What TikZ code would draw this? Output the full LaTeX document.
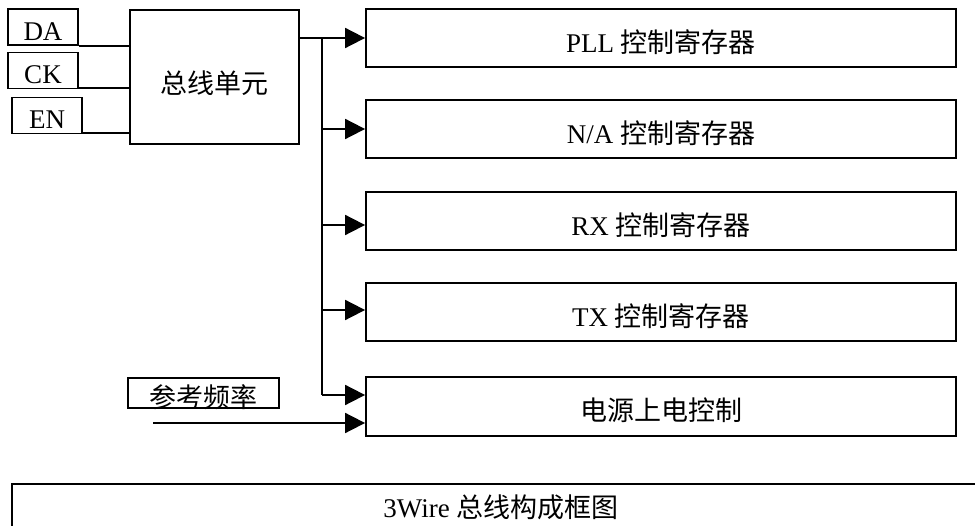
\documentclass[tikz,border=0pt]{standalone}
\usepackage{fontspec}
\setmainfont{Liberation Serif}
\newfontfamily\cjk{Noto Sans CJK SC}
\usetikzlibrary{arrows.meta}
\tikzset{
  every picture/.style={x=1pt,y=-1pt},
  frame/.style={draw, line width=1.8pt, inner sep=0pt},
  inbox/.style={frame, minimum width=70pt, minimum height=36pt},
  regbox/.style={frame, minimum width=590pt, minimum height=58pt},
  lbl/.style={inner sep=0pt, yshift=#1},
  lbl/.default={-4pt},
  conn/.style={line width=1.8pt},
  arr/.style={conn, -{Triangle[length=20pt,width=20pt]}},
  bigfont/.style={font=\fontsize{27}{30}\selectfont}
}
\begin{document}
\begin{tikzpicture}[bigfont]
\clip (0,0) rectangle (975,526);
\fill[white] (0,0) rectangle (975,526);

% input boxes
\node[inbox, label={[lbl=-5pt]center:DA}] (da) at (43,27) {};
\node[inbox, label={[lbl=-4.5pt]center:CK}] (ck) at (43,70.5) {};
\node[inbox, label={[lbl=-4.5pt]center:EN}] (en) at (47,115.5) {};

% bus unit
\node[frame, minimum width=169pt, minimum height=134pt,
      label={[lbl=-6.5pt]center:{\cjk 总线单元}}] (bus) at (214.5,77) {};

% register boxes
\node[regbox, label={[lbl]center:{PLL {\cjk 控制寄存器}}}] (pll) at (661,38) {};
\node[regbox, label={[lbl]center:{N/A {\cjk 控制寄存器}}}] (na) at (661,129) {};
\node[regbox, label={[lbl]center:{RX {\cjk 控制寄存器}}}] (rx) at (661,221) {};
\node[regbox, label={[lbl]center:{TX {\cjk 控制寄存器}}}] (tx) at (661,312) {};
\node[regbox, minimum height=59pt, label={[lbl]center:{\cjk 电源上电控制}}] (pwr) at (661,406.5) {};

% reference frequency
\node[frame, minimum width=151pt, minimum height=30pt,
      label={[lbl=-4pt]center:{\cjk 参考频率}}] (ref) at (203.5,393) {};
\coordinate (refin) at (153,423);

% caption
\node[frame, minimum width=978pt, minimum height=76pt,
      label={[lbl=15pt]center:{3Wire {\cjk 总线构成框图}}}] (cap) at (501,522) {};

% input lines
\draw[conn] (da.south east) -- (da.south east -| bus.west);
\draw[conn] ([yshift=1pt]ck.south east) -- ([yshift=1pt]ck.south east -| bus.west);
\draw[conn] ([yshift=1pt]en.south east) -- ([yshift=1pt]en.south east -| bus.west);

% bus distribution
\coordinate (j1) at (322,38);
\coordinate (j2) at (322,129);
\coordinate (j3) at (322,225);
\coordinate (j4) at (322,310);
\coordinate (j5) at (322,395);
\draw[arr] (bus.east |- j1) -- (pll.west);
\draw[conn] (j1) -- (j5);
\draw[arr] (j2) -- (j2 -| na.west);
\draw[arr] (j3) -- (j3 -| rx.west);
\draw[arr] (j4) -- (j4 -| tx.west);
\draw[arr] (j5) -- (j5 -| pwr.west);
\draw[arr] (refin) -- (refin -| pwr.west);
\end{tikzpicture}
\end{document}
